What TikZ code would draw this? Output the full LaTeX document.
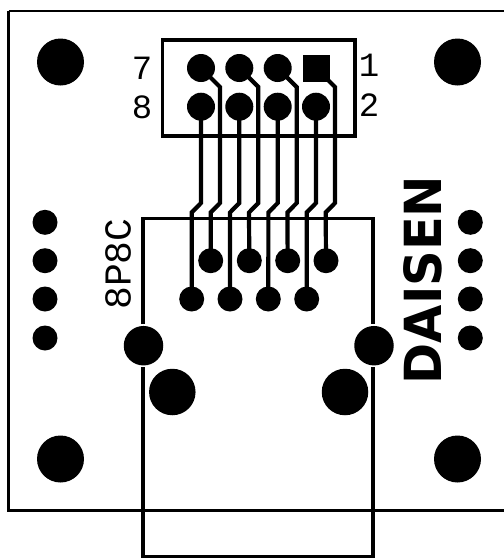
\documentclass[tikz,border=0pt]{standalone}
\usepackage{fontspec}
\setmainfont{Liberation Mono}
\newfontfamily\logofont{DejaVu Sans Bold}
\tikzset{
    pad/.style={circle,fill=black,inner sep=0pt,minimum size=#1},
    silk/.style={font=\fontsize{34}{34}\selectfont,inner sep=0pt},
    trace/.style={line width=4.2pt},
    outline/.style={line width=3.4pt},
}
\begin{document}
\begin{tikzpicture}[x=1pt,y=-1pt,line join=miter]
\useasboundingbox (0,0) rectangle (504,558);
% board
\draw[line width=2.4pt](8.5,11)--(504,11)(8.5,11)--(8.5,510.5)--(504,510.5);
% mounting holes
\node[pad=47pt](hole1) at (60.5,62){};
\node[pad=47pt](hole2) at (457.5,62){};
\node[pad=47pt](hole3) at (60.5,459){};
\node[pad=47pt](hole4) at (457.5,459){};
% header
\draw[outline](162.5,40)rectangle(355,136);
\node[fill=black,inner sep=0pt,minimum size=27pt](top1) at (316,68){};
\foreach \n/\x in {2/277.7,3/239.3,4/201}
{
    \node[pad=28pt](top\n) at (\x,68){};
}
\foreach \n/\x in {1/316,2/277.7,3/239.3,4/201}
{
    \node[pad=28pt](bot\n) at (\x,106.7){};
}
% jack
\draw[outline](143,324)--(143,218.5)--(373,218.5)--(373,324);
\draw[outline](143,367)--(143,556.5)--(373,556.5)--(373,367);
\node[pad=39.5pt](lug1) at (143.5,345.7){};
\node[pad=39.5pt](lug2) at (374,345.7){};
\node[pad=46.5pt](peg1) at (172.3,392){};
\node[pad=46.5pt](peg2) at (345,392){};
\foreach \n/\x in {1/326,2/287.7,3/249.3,4/210.7}
{
    \node[pad=25pt](upp\n) at (\x,260.7){};
}
\foreach \n/\x in {1/306.7,2/268.3,3/230,4/191.7}
{
    \node[pad=25pt](low\n) at (\x,299){};
}
% traces
\foreach \n in {1,2,3,4}
{
    \draw[trace](top\n.center)--++(19,19)--++(0,116)--++(-9.3,9.5)--(upp\n.center);
    \draw[trace](bot\n.center)--++(0,96.3)--++(-9.3,9.5)--(low\n.center);
}
% side rows
\foreach \n/\y in {1/222.3,2/260.7,3/299,4/338}
{
    \node[pad=25pt](left\n) at (45,\y){};
    \node[pad=25pt](right\n) at (470.3,\y){};
}
% labels
\node[silk](lab7) at (142,68){7};
\node[silk](lab8) at (142,107){8};
\node[silk](lab1) at (369,65){1};
\node[silk](lab2) at (369,105){2};
\node[silk,rotate=90,font=\fontsize{38}{38}\selectfont](labjack) at (118,264){8P8C};
\node[rotate=90,inner sep=0pt,font=\logofont\fontsize{55}{55}\selectfont,xscale=0.9,yscale=0.93](logo) at (422.5,280){DAISEN};
\end{tikzpicture}
\end{document}
